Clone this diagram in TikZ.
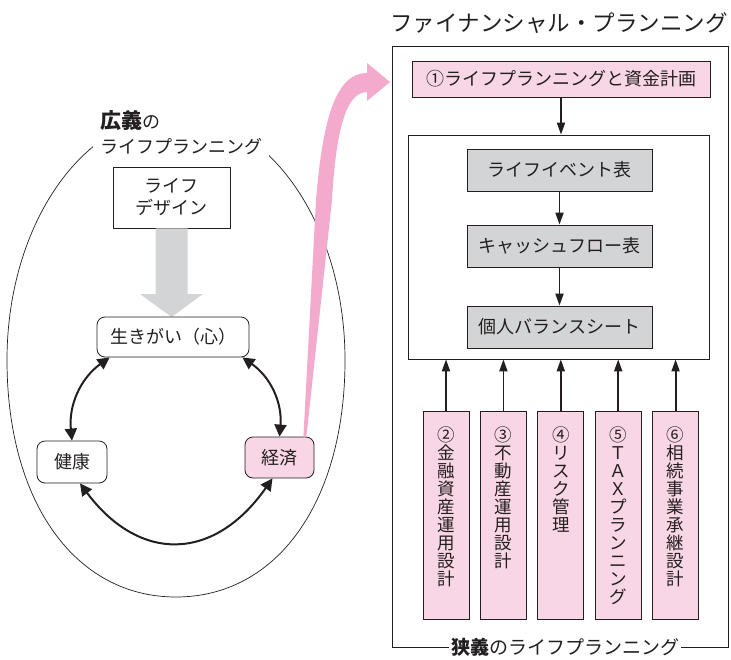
\documentclass[tikz,border=0pt]{standalone}
\usepackage{fontspec}
\setmainfont{Noto Sans CJK JP}
\usetikzlibrary{arrows.meta}

\definecolor{pinklight}{RGB}{249,214,229}
\definecolor{pinkdeep}{RGB}{243,170,205}
\definecolor{grayfill}{RGB}{211,212,213}
\definecolor{ink}{RGB}{35,31,32}

\begin{document}
\begin{tikzpicture}[x=1pt,y=-1pt, every node/.style={text=ink},
  box/.style={draw=ink, line width=0.8pt, inner sep=0pt, font=\fontsize{18}{22}\selectfont},
  rbox/.style={box, rounded corners=8pt},
  dbl/.style={{Triangle[length=12pt,width=12pt]}-{Triangle[length=12pt,width=12pt]}, line width=2pt, draw=ink},
  arr/.style={-{Triangle[length=12pt,width=8pt]}, line width=1.8pt, draw=ink}]
  \useasboundingbox (0,0) rectangle (731,659);

  % wide sense (left)
  \draw[line width=0.7pt, draw=ink] (176,115) .. controls (83,115) and (7,225) .. (7,360)
    .. controls (7,502) and (75,597) .. (176,597)
    .. controls (277,597) and (345,502) .. (345,360)
    .. controls (345,225) and (269,115) .. (176,115);
  \node[fill=white, align=left, anchor=south west, inner xsep=7pt, inner ysep=2pt,
        font=\fontsize{18}{25}\selectfont] (wide) at (93,157)
    {{\fontsize{21}{25}\selectfont\bfseries 広義}の\\ライフプランニング};

  \node[box, minimum width=117pt, minimum height=61pt, align=center] (design) at (171.5,197.5) {ライフ\\デザイン};
  \fill[grayfill] ([xshift=-16pt]design.south) -- ([xshift=16pt]design.south) -- (187.5,294)
    -- (203,294) -- (171.5,317) -- (140,294) -- (155.5,294) -- cycle;

  \node[rbox, minimum width=152pt, minimum height=40pt] (ikigai) at (173,337) {生きがい（心）};
  \node[rbox, minimum width=70pt, minimum height=42pt] (kenko) at (72,462) {健康};
  \node[rbox, fill=pinklight, minimum width=69pt, minimum height=41pt] (keizai) at (279.5,457.5) {経済};

  \draw[dbl] ([xshift=13pt]ikigai.south west) to[bend right=30] (kenko.north);
  \draw[dbl] ([xshift=-7pt]ikigai.south east) to[bend left=30] (keizai.north);
  \draw[dbl] ([xshift=8pt]kenko.south) .. controls +(59,79) and +(-59,84) .. ([xshift=-7pt]keizai.south);

  % pink arrow
  \fill[pinkdeep] ([xshift=-11pt]keizai.north east) -- (316,200) .. controls (323,115) and (337,73) .. (367,73)
    -- (367,63) -- (390,82) -- (367,101) -- (367,92) .. controls (346,92) and (336,130) .. (332,200)
    -- ([xshift=-8pt]keizai.north east) -- cycle;

  % financial planning (right)
  \node[font=\fontsize{22.5}{24}\selectfont] (fptitle) at (559,23) {ファイナンシャル・プランニング};
  \draw[draw=ink, line width=0.7pt] (392,46) rectangle (728,647);
  \node[fill=white, inner xsep=2pt, font=\fontsize{19}{22}\selectfont] (narrow) at (565,647)
    {{\bfseries 狭義}のライフプランニング};

  \node[box, fill=pinklight, minimum width=298pt, minimum height=36pt] (plan) at (561,79) {①ライフプランニングと資金計画};
  \node[draw=ink, line width=0.7pt, minimum width=301pt, minimum height=224pt] (inner) at (558.5,247) {};
  \node[box, fill=grayfill, minimum width=185pt, minimum height=42pt] (events) at (559.5,170) {ライフイベント表};
  \node[box, fill=grayfill, minimum width=185pt, minimum height=42pt] (cashflow) at (559.5,246) {キャッシュフロー表};
  \node[box, fill=grayfill, minimum width=185pt, minimum height=42pt] (balance) at (559.5,327) {個人バランスシート};

  \draw[arr] (plan) -- (plan |- inner.north);
  \draw[arr] (events) -- (cashflow);
  \draw[arr] (cashflow) -- (balance);

  \foreach \txt [count=\ni] in {{②\\金\\融\\資\\産\\運\\用\\設\\計}, {③\\不\\動\\産\\運\\用\\設\\計},
      {④\\リ\\ス\\ク\\管\\理}, {⑤\\Ｔ\\Ａ\\Ｘ\\プ\\ラ\\ン\\ニ\\ン\\グ}, {⑥\\相\\続\\事\\業\\承\\継\\設\\計}}{
    \node[box, fill=pinklight, minimum width=46pt, minimum height=208pt] (b\ni) at ({388.6+\ni*57.4},515) {};
    \node[anchor=north, align=center, inner sep=0pt, font=\fontsize{17.5}{18}\selectfont] (t\ni)
      at ([yshift=-16pt]b\ni.north) {\txt};
    \draw[arr] (b\ni) -- (b\ni |- inner.south);
  }
\end{tikzpicture}
\end{document}
